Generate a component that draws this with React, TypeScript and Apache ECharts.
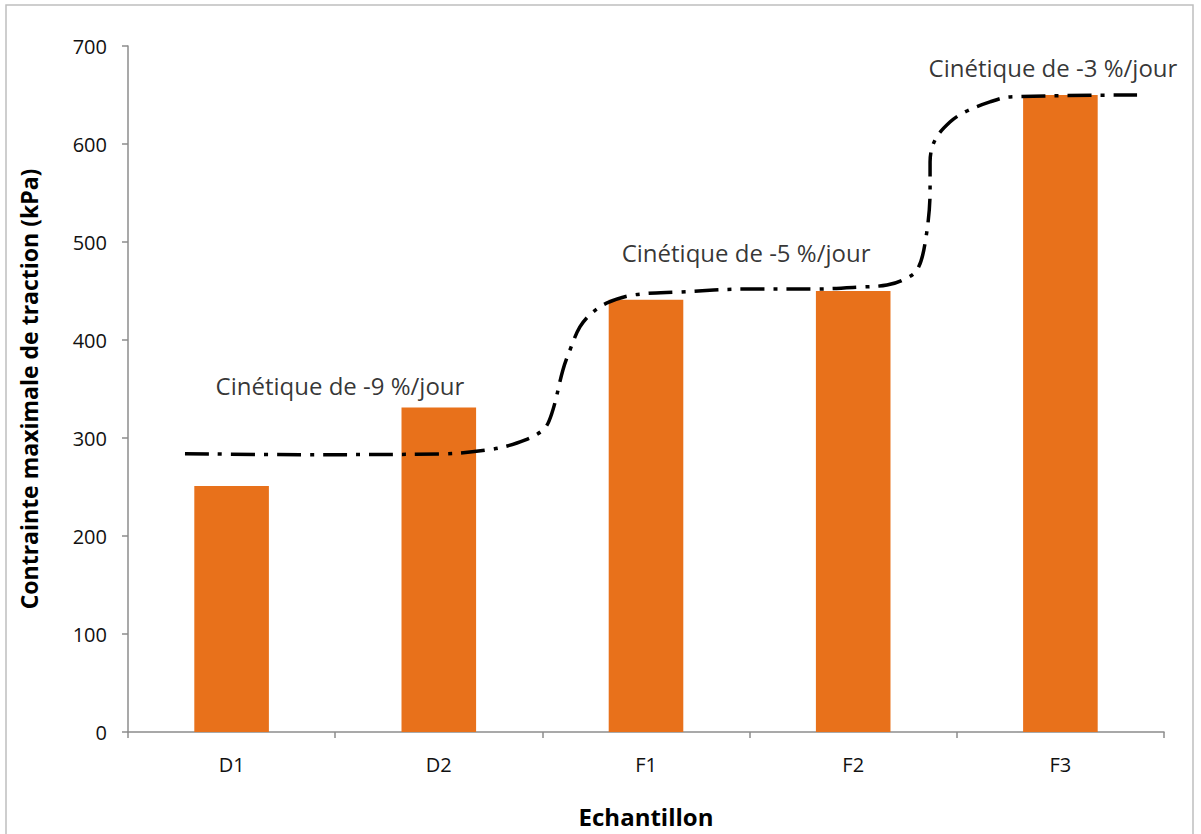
import React, { useEffect, useRef } from "react";
import * as echarts from "echarts";

const categories = ["D1", "D2", "F1", "F2", "F3"];
const barValues = [251, 331, 441, 450, 650];

// dash-dot trend curve: x in category units (0..5), y in kPa
const curveX = [0.275, 0.83, 1.506, 1.733, 1.877, 2.003, 2.046, 2.099, 2.133, 2.181, 2.239, 2.312, 2.437, 2.664, 2.987, 3.306, 3.547, 3.663, 3.74, 3.808, 3.847, 3.871, 3.871, 3.895, 3.967, 4.04, 4.16, 4.257, 4.87];
const curveY = [284, 283, 283.7, 287.8, 294.9, 308.2, 325.5, 369.4, 389.8, 413.3, 427.6, 437.8, 445.9, 449, 452, 452, 454.1, 456.1, 461.2, 471.4, 499, 553.1, 581.6, 604.1, 622.4, 632.7, 642.9, 648, 650];

const annotationX = [1.023, 2.983, 4.464];
const annotationY = [354, 489, 678];
const annotationText = ["Cinétique de -9 %/jour", "Cinétique de -5 %/jour", "Cinétique de -3 %/jour"];

const yTicks = { min: 0, max: 700, interval: 100 };

export default function App() {
  const ref = useRef<HTMLDivElement>(null);
  useEffect(() => {
    document.body.style.margin = "0";
    const chart = echarts.init(ref.current!, null, { renderer: "svg" });
    const font = "'Open Sans', sans-serif";
    const axisColor = "#8c8c8c";
    chart.setOption({
      animation: false,
      backgroundColor: "#ffffff",
      textStyle: { fontFamily: font },
      grid: { left: 128, right: 37, top: 46, bottom: 102 },
      graphic: [
        {
          type: "rect",
          shape: { x: 6, y: 5, width: 1187, height: 840 },
          style: { fill: "none", stroke: "#bfbfbf", lineWidth: 1.5 },
          silent: true,
        },
      ],
      xAxis: [
        {
          type: "category",
          data: categories,
          name: "Echantillon",
          nameLocation: "middle",
          nameGap: 72,
          nameTextStyle: { fontFamily: font, fontSize: 24, fontWeight: "bold", color: "#000" },
          axisLine: { show: true, lineStyle: { color: axisColor, width: 1.5 } },
          axisTick: { show: true, length: 6, alignWithLabel: false, lineStyle: { color: axisColor, width: 1.5 } },
          axisLabel: { fontFamily: font, fontSize: 20, color: "#111", margin: 22 },
          splitLine: { show: false },
        },
        {
          type: "value",
          min: 0,
          max: 5,
          show: false,
        },
      ],
      yAxis: {
        type: "value",
        min: yTicks.min,
        max: yTicks.max,
        interval: yTicks.interval,
        name: "Contrainte maximale de traction (kPa)",
        nameLocation: "middle",
        nameGap: 88,
        nameRotate: 90,
        nameTextStyle: { fontFamily: font, fontSize: 23, fontWeight: "bold", color: "#000" },
        axisLine: { show: true, lineStyle: { color: axisColor, width: 1.5 } },
        axisTick: { show: true, length: 6, lineStyle: { color: axisColor, width: 1.5 } },
        axisLabel: { fontFamily: font, fontSize: 20, color: "#111", margin: 21 },
        splitLine: { show: false },
      },
      series: [
        {
          type: "bar",
          data: barValues,
          barWidth: "36%",
          itemStyle: { color: "#E8711B" },
          xAxisIndex: 0,
          z: 2,
        },
        {
          type: "line",
          xAxisIndex: 1,
          data: curveX.map((x, i) => [x, curveY[i]]),
          smooth: 0.35,
          showSymbol: false,
          symbol: "none",
          lineStyle: { color: "#000", width: 3.5, type: [24, 9, 4, 9], cap: "butt" },
          z: 3,
        },
        {
          type: "scatter",
          xAxisIndex: 1,
          symbolSize: 0,
          data: annotationX.map((x, i) => [x, annotationY[i], annotationText[i]]),
          label: {
            show: true,
            position: "inside",
            formatter: (p: any) => p.data[2],
            fontFamily: font,
            fontSize: 24,
            color: "#000",
          },
          z: 4,
        },
      ],
    });
    return () => chart.dispose();
  }, []);
  return <div ref={ref} style={{ width: 1201, height: 834 }} />;
}
